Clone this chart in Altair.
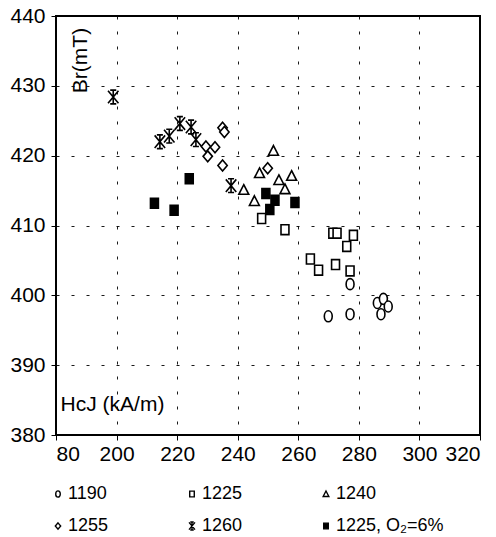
import altair as alt
import pandas as pd

# HcJ (kA/m) and Br (mT)
s1190_x = [277.1, 269.9, 277.1, 286.1, 288.1, 289.7, 287.3]
s1190_y = [401.6, 397.0, 397.3, 398.9, 399.5, 398.4, 397.3]

s1225_x = [247.9, 255.6, 271.4, 272.8, 278.2, 276.0, 264.0, 266.7, 272.3, 277.1]
s1225_y = [411.0, 409.4, 408.9, 408.9, 408.6, 407.0, 405.2, 403.6, 404.4, 403.5]

s1240_x = [251.8, 247.2, 253.6, 257.8, 255.6, 242.0, 245.5]
s1240_y = [420.7, 417.5, 416.5, 417.1, 415.2, 415.1, 413.5]

s1255_x = [229.5, 232.5, 230.1, 235.0, 235.6, 235.0, 249.9]
s1255_y = [421.3, 421.2, 419.9, 424.0, 423.4, 418.6, 418.2]

s1260_x = [198.9, 214.3, 217.4, 220.9, 224.6, 226.2, 237.8]
s1260_y = [428.4, 422.0, 422.8, 424.6, 424.1, 422.3, 415.7]

s1225o2_x = [212.5, 219.0, 224.0, 249.3, 252.3, 250.6, 258.9]
s1225o2_y = [413.2, 412.2, 416.7, 414.6, 413.6, 412.3, 413.3]

series_names = ["1190", "1225", "1240", "1255", "1260", "1225, O\u2082=6%"]
series_x = [s1190_x, s1225_x, s1240_x, s1255_x, s1260_x, s1225o2_x]
series_y = [s1190_y, s1225_y, s1240_y, s1255_y, s1260_y, s1225o2_y]

x_ticks = [180, 200, 220, 240, 260, 280, 300, 320]
y_ticks = [380, 390, 400, 410, 420, 430, 440]

rows = []
for name, xs, ys in zip(series_names, series_x, series_y):
    for xv, yv in zip(xs, ys):
        rows.append({"series": name, "HcJ": xv, "Br": yv})
df = pd.DataFrame(rows)

ellipse = "M0,-1A0.72,1,0,1,1,0,1A0.72,1,0,1,1,0,-1Z"
rect = "M-0.72,-0.9H0.72V0.9H-0.72Z"
tri = "M0,-0.95L0.9,0.8L-0.9,0.8Z"
diamond = "M0,-1L0.85,0L0,1L-0.85,0Z"
star = ("M-0.95,-1.15L0.95,1.15M-0.95,1.15L0.95,-1.15M0,-1.25L0,1.25"
        "M-0.55,-1.25L0.55,-1.25M-0.55,1.25L0.55,1.25")
shapes = [ellipse, rect, tri, diamond, star, rect]
fills = ["white", "white", "white", "white", "white", "black"]
strokes = ["black"] * 6

font = "Liberation Sans"

chart = alt.Chart(df).mark_point(
    filled=True, strokeWidth=1.6, size=121, opacity=1
).encode(
    x=alt.X("HcJ:Q",
            scale=alt.Scale(domain=[180, 320], nice=False, zero=False),
            axis=alt.Axis(values=x_ticks, title="HcJ (kA/m)",
                          labelExpr="datum.value == 180 ? '80' : datum.label",
                          titleX=56, titleY=-31, titleAlign="center",
                          titleBaseline="middle", titleFontSize=21,
                          titleFontWeight="normal")),
    y=alt.Y("Br:Q",
            scale=alt.Scale(domain=[380, 440], nice=False, zero=False),
            axis=alt.Axis(values=y_ticks, title="Br(mT)",
                          titleX=24, titleY=44, titleAngle=270,
                          titleAlign="center", titleBaseline="middle",
                          titleFontSize=21, titleFontWeight="normal")),
    shape=alt.Shape("series:N",
                    scale=alt.Scale(domain=series_names, range=shapes),
                    legend=alt.Legend(title=None, orient="none",
                                      legendX=-7, legendY=469,
                                      direction="horizontal",
                                      columns=3, columnPadding=74,
                                      rowPadding=14, symbolSize=40,
                                      padding=0,
                                      labelFontSize=18, labelFont=font,
                                      labelColor="black", labelOffset=1,
                                      gridAlign="each",
                                      symbolStrokeWidth=1.4)),
    fill=alt.Fill("series:N",
                  scale=alt.Scale(domain=series_names, range=fills),
                  legend=None),
    stroke=alt.Stroke("series:N",
                      scale=alt.Scale(domain=series_names, range=strokes),
                      legend=None),
).properties(
    width=424, height=419,
    padding={"left": 56, "top": 16, "right": 16, "bottom": 102},
    autosize=alt.AutoSizeParams(type="none"),
).configure_view(
    stroke="black", strokeWidth=2
).configure_axis(
    labelFont=font, titleFont=font, labelFontSize=21, labelColor="black",
    titleColor="black", grid=True, gridColor="black", gridWidth=1,
    gridDash=[3, 12], gridOpacity=0.9, domain=False,
    tickColor="black", tickSize=5, labelPadding=3
).configure_axisY(
    labelPadding=6
)

chart.save("out.html", embed_options={"renderer": "svg", "actions": False})
